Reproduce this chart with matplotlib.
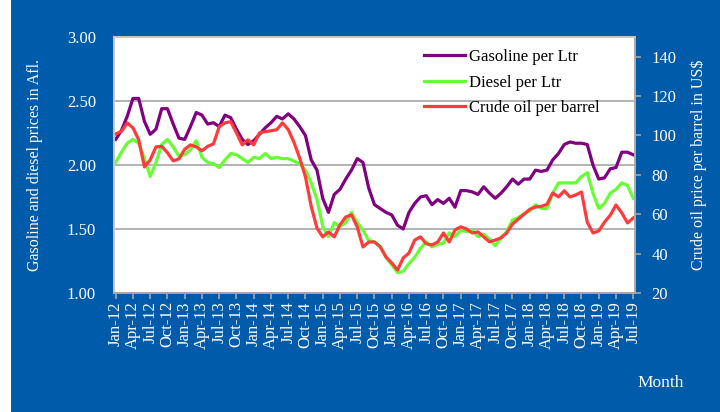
import numpy as np
import matplotlib
matplotlib.use('Agg')
import matplotlib.pyplot as plt
from matplotlib.patches import Rectangle

# monthly prices, Jan-12 .. Jul-19
gasoline = [2.20, 2.27, 2.38, 2.52, 2.52, 2.34, 2.24, 2.28, 2.44, 2.44, 2.32, 2.21,
            2.20, 2.30, 2.41, 2.39, 2.32, 2.33, 2.30, 2.39, 2.37, 2.28, 2.20, 2.16,
            2.19, 2.24, 2.29, 2.33, 2.38, 2.36, 2.40, 2.36, 2.30, 2.23, 2.04, 1.96,
            1.74, 1.63, 1.77, 1.81, 1.89, 1.96, 2.05, 2.02, 1.82, 1.69, 1.66, 1.63,
            1.61, 1.53, 1.50, 1.63, 1.70, 1.75, 1.76, 1.69, 1.73, 1.70, 1.74, 1.67,
            1.80, 1.80, 1.79, 1.77, 1.83, 1.78, 1.74, 1.78, 1.83, 1.89, 1.85, 1.89,
            1.89, 1.96, 1.95, 1.96, 2.04, 2.09, 2.16, 2.18, 2.17, 2.17, 2.16, 2.00,
            1.89, 1.90, 1.97, 1.98, 2.10, 2.10, 2.08]
diesel = [2.02, 2.10, 2.17, 2.20, 2.17, 2.05, 1.91, 2.02, 2.16, 2.20, 2.14, 2.07,
          2.08, 2.12, 2.19, 2.06, 2.02, 2.01, 1.98, 2.04, 2.09, 2.08, 2.05, 2.02,
          2.06, 2.05, 2.09, 2.05, 2.06, 2.05, 2.05, 2.03, 2.01, 1.96, 1.86, 1.73,
          1.52, 1.44, 1.55, 1.52, 1.55, 1.63, 1.55, 1.49, 1.41, 1.40, 1.36, 1.28,
          1.22, 1.16, 1.17, 1.23, 1.28, 1.35, 1.40, 1.36, 1.38, 1.39, 1.47, 1.44,
          1.49, 1.48, 1.49, 1.44, 1.46, 1.42, 1.37, 1.43, 1.48, 1.57, 1.59, 1.62,
          1.64, 1.69, 1.66, 1.66, 1.78, 1.86, 1.86, 1.86, 1.86, 1.91, 1.94, 1.78,
          1.66, 1.70, 1.78, 1.81, 1.86, 1.84, 1.74]
crude = [100.8, 102.0, 106.4, 103.9, 97.8, 84.0, 87.6, 94.2, 94.5, 91.2, 87.1, 88.1,
         93.0, 95.2, 94.2, 92.2, 94.5, 95.7, 104.4, 106.4, 107.0, 101.3, 95.2, 97.8,
         95.2, 101.3, 101.9, 102.4, 102.9, 106.4, 103.0, 96.5, 88.5, 79.0, 64.0, 53.0,
         48.5, 51.0, 48.5, 54.6, 58.6, 59.7, 53.6, 43.4, 45.9, 45.9, 43.5, 38.3,
         35.3, 31.7, 37.8, 40.3, 46.9, 48.5, 45.0, 44.4, 45.9, 50.5, 45.9, 52.0,
         53.6, 52.5, 50.5, 51.0, 48.5, 46.0, 46.9, 48.0, 50.5, 55.0, 57.5, 60.0,
         62.5, 63.7, 64.0, 65.0, 70.8, 68.8, 71.9, 68.8, 69.8, 71.3, 56.0, 50.5,
         51.5, 56.0, 59.5, 64.7, 60.7, 55.6, 58.1]

tick_labels = ['Jan-12', 'Apr-12', 'Jul-12', 'Oct-12', 'Jan-13', 'Apr-13', 'Jul-13', 'Oct-13',
               'Jan-14', 'Apr-14', 'Jul-14', 'Oct-14', 'Jan-15', 'Apr-15', 'Jul-15', 'Oct-15',
               'Jan-16', 'Apr-16', 'Jul-16', 'Oct-16', 'Jan-17', 'Apr-17', 'Jul-17', 'Oct-17',
               'Jan-18', 'Apr-18', 'Jul-18', 'Oct-18', 'Jan-19', 'Apr-19', 'Jul-19']

blue = '#005BAA'
grid_grey = '#A6A6A6'
plt.rcParams['font.family'] = ['Liberation Serif', 'DejaVu Serif']

fig = plt.figure(figsize=(7.2, 4.12), dpi=100, facecolor='white')
fig.patches.append(Rectangle((11 / 720, 0), 1, 1, transform=fig.transFigure,
                             facecolor=blue, edgecolor='none', zorder=-10))

ax = fig.add_axes([0.1583, 0.2888, 0.7236, 0.6214])
ax2 = ax.twinx()
x = np.arange(len(gasoline))

l1, = ax.plot(x, gasoline, color='#800080', lw=2.3, label='Gasoline per Ltr')
l2, = ax.plot(x, diesel, color='#66FF33', lw=2.3, label='Diesel per Ltr')
l3, = ax2.plot(x, crude, color='#FF3B3B', lw=2.3, label='Crude oil per barrel')

ax.set_xlim(-0.3, 90.3)
ax.set_ylim(1.0, 3.0)
ax2.set_ylim(20, 150)
ax.set_yticks([1.0, 1.5, 2.0, 2.5, 3.0])
ax.set_yticklabels(['%.2f' % v for v in [1.0, 1.5, 2.0, 2.5, 3.0]])
ax2.set_yticks(range(20, 141, 20))
ax.set_xticks(range(0, 91, 3))
ax.set_xticklabels(tick_labels, rotation=90)

for yv in [1.5, 2.0, 2.5]:
    ax.axhline(yv, color=grid_grey, lw=1.2, zorder=0)

for a in (ax, ax2):
    for s in a.spines.values():
        s.set_color('#C8C8C8')
        s.set_linewidth(1.2)
ax.spines['bottom'].set_color(grid_grey)
ax2.spines['bottom'].set_color(grid_grey)
ax2.spines['right'].set_color(grid_grey)

ax.tick_params(axis='y', length=0, pad=13, labelcolor='white', labelsize=12)
ax.tick_params(axis='x', direction='out', length=4, color=grid_grey, width=1.2,
               labelcolor='white', labelsize=12, pad=2)
ax2.tick_params(axis='y', direction='out', length=4, color=grid_grey, width=1.2,
                labelcolor='white', labelsize=12, pad=8)

ax.set_ylabel('Gasoline and diesel prices in Afl.', color='white', fontsize=11.5, labelpad=17)
ax2.set_ylabel('Crude oil price per barrel in US$', color='white', fontsize=11.5, labelpad=10)
fig.text(0.917, 0.07, 'Month', color='white', fontsize=12.5, ha='center', va='center')

leg = ax2.legend(handles=[l1, l2, l3], loc='upper left', bbox_to_anchor=(0.567, 1.012),
                 frameon=False, fontsize=12, handlelength=2.45, handletextpad=0.2,
                 labelspacing=0.58)

fig.savefig('out.png', dpi=100, facecolor=fig.get_facecolor())
plt.close()
